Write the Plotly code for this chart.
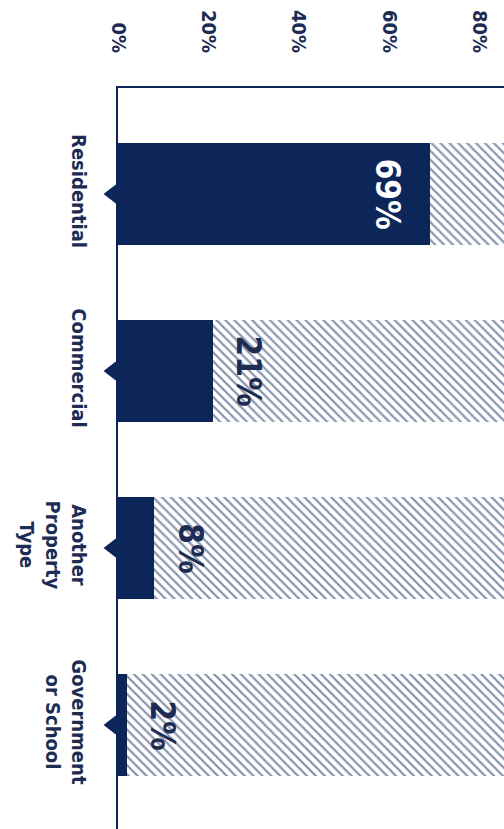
import plotly.graph_objects as go

# Share of incidents by property type (percent)
categories = ["Residential", "Commercial", "Another<br>Property<br>Type", "Government<br>or School"]
values = [69, 21, 8, 2]
tick_values = [0, 20, 40, 60, 80]
tick_labels = ["0%", "20%", "40%", "60%", "80%"]

NAVY = "#0c2659"
TEXT = "#1e2b52"
FONT = "DejaVu Sans Condensed, DejaVu Sans, sans-serif"
FULL = 100

fig = go.Figure()

# solid share
fig.add_trace(go.Bar(
    y=categories, x=values, orientation="h", width=0.58,
    marker=dict(color=NAVY, line=dict(width=0)),
    hoverinfo="skip", showlegend=False,
))
# hatched remainder
fig.add_trace(go.Bar(
    y=categories, x=[FULL - v for v in values], orientation="h", width=0.58,
    marker=dict(color="white", line=dict(width=0),
                pattern=dict(shape="\\", fgcolor=NAVY, bgcolor="white",
                             size=6.3, solidity=0.35)),
    hoverinfo="skip", showlegend=False,
))
# notch markers on the axis
fig.add_trace(go.Scatter(
    y=categories, x=[0] * len(categories), mode="markers",
    marker=dict(symbol="triangle-left", size=29, color=NAVY),
    cliponaxis=False, hoverinfo="skip", showlegend=False,
))

# value labels
for cat, v in zip(categories, values):
    inside = v >= 50
    fig.add_annotation(
        x=v, y=cat, xref="x", yref="y",
        text=f"<b>{v}%</b>", textangle=90, showarrow=False,
        xanchor="right" if inside else "left",
        xshift=-20 if inside else 14,
        font=dict(family=FONT, size=33, color="white" if inside else TEXT),
    )

fig.update_layout(
    width=504, height=829,
    margin=dict(l=118, r=0, t=88, b=0, autoexpand=False),
    barmode="stack",
    plot_bgcolor="white", paper_bgcolor="white",
    font=dict(family=FONT, color=TEXT),
    xaxis=dict(
        side="top", range=[0, 85.4], tickvals=tick_values, ticktext=tick_labels,
        tickangle=90, ticks="", ticklabelstandoff=26,
        tickfont=dict(family=FONT, size=20, color=TEXT, weight="bold"),
        showgrid=False, zeroline=False,
        showline=True, linecolor=NAVY, linewidth=2,
    ),
    yaxis=dict(
        range=[3.588, -0.599], tickangle=90, ticks="", ticklabelstandoff=20,
        tickfont=dict(family=FONT, size=20, color=TEXT, weight="bold"),
        showgrid=False, zeroline=False,
        showline=True, linecolor=NAVY, linewidth=2,
    ),
)

fig.write_html("out.html")
